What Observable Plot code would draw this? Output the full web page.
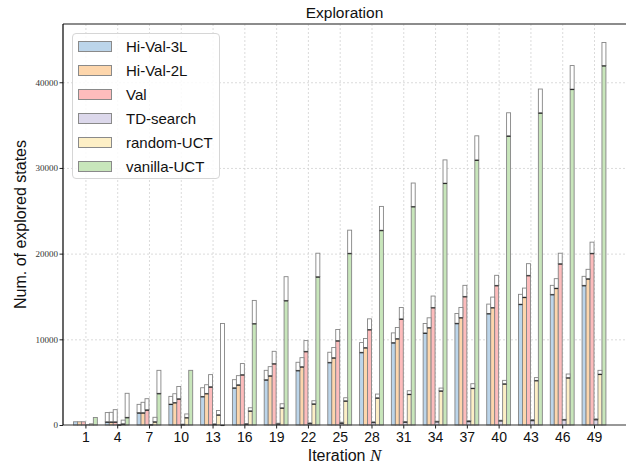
<!DOCTYPE html>
<html>
<head>
<meta charset="utf-8">
<script src="https://cdn.jsdelivr.net/npm/d3@7"></script>
<script src="https://cdn.jsdelivr.net/npm/@observablehq/plot@0.6"></script>
<style>
  body { margin: 0; background: #fff; }
  #wrap { position: relative; width: 626px; height: 467px; overflow: hidden; }
  .legend { position: absolute; left: 72px; top: 33px; width: 148px; height: 146px;
    border: 1px solid #d6d6d6; border-radius: 4px; background: rgba(255,255,255,0.85);
    box-sizing: border-box; font-family: "Liberation Sans", sans-serif; font-size: 15px; color: #111; }
  .legend .row { position: absolute; left: 5px; height: 24px; display: flex; align-items: center; }
  .legend .sw { width: 34px; height: 11px; border: 1px solid #8a8a8a; box-sizing: border-box; margin-right: 14px; }
</style>
</head>
<body>
<div id="wrap"></div>
<script>
const iterations = [1, 4, 7, 10, 13, 16, 19, 22, 25, 28, 31, 34, 37, 40, 43, 46, 49];
const seriesNames = ["Hi-Val-3L", "Hi-Val-2L", "Val", "TD-search", "random-UCT", "vanilla-UCT"];
const seriesColors = ["#bcd5ea", "#fdd6ac", "#fdbcbc", "#dcd8eb", "#fdefc6", "#c8e6bb"];
const yTicks = [0, 10000, 20000, 30000, 40000];

// explored states at this iteration (bar top) and at the previous shown iteration (coloured part)
const hiVal3LTotal = [375, 1450, 2410, 3340, 4350, 5290, 6380, 7320, 8490, 9620, 10750, 11850, 13020, 14110, 15250, 16300, 17350];
const hiVal3LPrev  = [375, 375, 1440, 2450, 3340, 4350, 5290, 6380, 7320, 8490, 9620, 10750, 11880, 13020, 14110, 15250, 16300];
const hiVal2LTotal = [375, 1480, 2650, 3650, 4700, 5760, 6810, 7860, 9040, 10090, 11380, 12510, 13720, 14930, 15980, 17080, 18170];
const hiVal2LPrev  = [375, 375, 1440, 2630, 3690, 4700, 5760, 6810, 7860, 9040, 10090, 11380, 12550, 13720, 14930, 15980, 17080];
const valTotal     = [375, 1790, 3070, 4500, 5880, 7170, 8600, 9850, 11150, 12390, 13720, 15050, 16300, 17470, 18830, 20050, 21340];
const valPrev      = [375, 375, 1780, 3070, 4470, 5880, 7170, 8600, 9850, 11150, 12390, 13720, 15010, 16300, 17470, 18830, 20050];
const tdTotal      = [40, 60, 70, 100, 140, 150, 210, 255, 330, 375, 410, 445, 525, 560, 640, 660, 725];
const tdPrev       = [40, 40, 60, 70, 100, 140, 150, 210, 255, 330, 375, 410, 445, 525, 560, 640, 660];
const randomTotal  = [140, 570, 900, 1290, 1690, 2010, 2480, 2830, 3180, 3610, 4000, 4310, 4820, 5210, 5530, 5950, 6380];
const randomPrev   = [140, 140, 390, 880, 1200, 1660, 2010, 2480, 2830, 3180, 3610, 4000, 4310, 4820, 5210, 5530, 5950];
const vanillaTotal = [880, 3700, 6380, 6380, 11850, 14540, 17310, 20050, 22740, 25510, 28240, 30940, 33750, 36440, 39210, 41950, 44640];
const vanillaPrev  = [880, 900, 3700, 6380, 0, 11850, 14540, 17310, 20050, 22740, 25510, 28240, 30940, 33750, 36440, 39210, 41950];

const totals = [hiVal3LTotal, hiVal2LTotal, valTotal, tdTotal, randomTotal, vanillaTotal];
const prevs = [hiVal3LPrev, hiVal2LPrev, valPrev, tdPrev, randomPrev, vanillaPrev];

const rows = [];
seriesNames.forEach((name, j) => iterations.forEach((it, i) =>
  rows.push({ name, j, it, prev: prevs[j][i], total: totals[j][i] })));
const grown = rows.filter(d => d.total > d.prev);

const bw = 0.375;
const x1 = d => d.it + (d.j - 3) * bw;
const x2 = d => d.it + (d.j - 2) * bw;

const sans = "Liberation Sans, sans-serif";
const plot = Plot.plot({
  width: 626, height: 467,
  marginLeft: 63, marginRight: 0, marginTop: 24, marginBottom: 42,
  x: { domain: [-1.115, 52.02] },
  y: { domain: [0, 46800] },
  color: { domain: seriesNames, range: seriesColors },
  style: { background: "white", overflow: "visible" },
  marks: [
    Plot.ruleX(iterations, { stroke: "#d2d2d2", strokeDasharray: "2,2", strokeWidth: 0.8 }),
    Plot.ruleY(yTicks.slice(1), { stroke: "#d2d2d2", strokeDasharray: "2,2", strokeWidth: 0.8 }),
    Plot.rect(rows, { x1, x2, y1: 0, y2: "prev", fill: "name", stroke: "#858585", strokeWidth: 0.9 }),
    Plot.rect(grown, { x1, x2, y1: "prev", y2: "total", fill: "white", stroke: "#858585", strokeWidth: 0.9 }),
    Plot.ruleY(grown, { x1, x2, y: "prev", stroke: "#2a2a2a", strokeWidth: 1.1 }),
    Plot.axisX({ ticks: iterations, tickFormat: d => d, label: null, tickSize: 3.5, tickPadding: 3,
      fontSize: 14, fontFamily: sans, stroke: "#222", color: "#111" }),
    Plot.axisY({ ticks: yTicks, tickFormat: d3.format("d"), label: null, tickSize: 3.5, tickPadding: 2,
      fontSize: 9, fontFamily: "Liberation Serif, serif", stroke: "#222", color: "#333" })
  ]
});

const svg = d3.select(plot);
const [xl, xr] = plot.scale("x").range;
const [yb, yt] = plot.scale("y").range;
svg.append("line").attr("x1", xl).attr("x2", 626).attr("y1", yt).attr("y2", yt)
  .attr("stroke", "#666").attr("stroke-width", 1.6);
svg.append("line").attr("x1", xl).attr("x2", 626).attr("y1", yb).attr("y2", yb)
  .attr("stroke", "#333").attr("stroke-width", 1.2);
svg.append("line").attr("x1", xl).attr("x2", xl).attr("y1", yt).attr("y2", yb)
  .attr("stroke", "#000").attr("stroke-width", 1.2);

const cx = (xl + 626) / 2;
svg.append("text").attr("x", cx).attr("y", 18).attr("text-anchor", "middle")
  .attr("font-family", sans).attr("font-size", 15.5).attr("fill", "#111").text("Exploration");
const xlab = svg.append("text").attr("x", cx).attr("y", 461).attr("text-anchor", "middle")
  .attr("font-family", sans).attr("font-size", 16).attr("fill", "#111");
xlab.append("tspan").text("Iteration ");
xlab.append("tspan").attr("font-family", "Liberation Serif, serif").attr("font-style", "italic").attr("font-size", 17).text("N");
svg.append("text").attr("transform", `translate(25.5,${(yt + yb) / 2}) rotate(-90)`).attr("text-anchor", "middle")
  .attr("font-family", sans).attr("font-size", 16).attr("fill", "#111").text("Num. of explored states");

const wrap = document.getElementById("wrap");
wrap.appendChild(plot);
const legend = document.createElement("div");
legend.className = "legend";
seriesNames.forEach((name, j) => {
  const row = document.createElement("div");
  row.className = "row";
  row.style.top = (0.5 + 24 * j) + "px";
  const sw = document.createElement("div");
  sw.className = "sw";
  sw.style.background = seriesColors[j];
  const label = document.createElement("span");
  label.textContent = name;
  row.appendChild(sw); row.appendChild(label);
  legend.appendChild(row);
});
wrap.appendChild(legend);
</script>
</body>
</html>
